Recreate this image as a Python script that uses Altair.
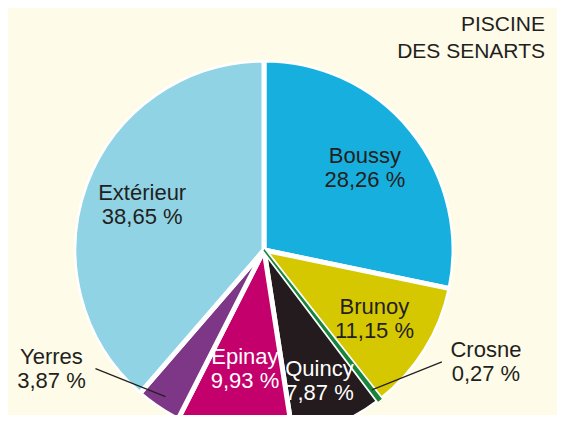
import math
import altair as alt
import pandas as pd

# ---- data ----
categories = ["Boussy", "Brunoy", "Crosne", "Quincy", "Epinay", "Yerres", "Extérieur"]
values = [28.26, 11.15, 0.27, 7.87, 9.93, 3.87, 38.65]
pct_labels = [f"{v:.2f}".replace(".", ",") + " %" for v in values]
title_lines = ["PISCINE", "DES SENARTS"]

# ---- styles / layout ----
colors = ["#17afde", "#d6c800", "#17853b", "#231b1d", "#c4006c", "#7e3687", "#90d3e5"]
BG = "#fefbe8"
TXT = "#231f20"
W, H = 549, 407
CX, CY, R = 256, 242, 190
FONT = "Liberation Sans"
FS, LH = 22, 24
label_radius = {"Quincy": 142, "Epinay": 121}
default_label_radius = 130
LEAD_DX, LEAD_DY = 70, 28

df = pd.DataFrame({"cat": categories, "value": values, "pct": pct_labels,
                   "order": list(range(len(categories)))})

theta_scale = alt.Scale(domain=[0, 100], range=[0, 2 * math.pi])
color_scale = alt.Scale(domain=categories, range=colors)

base = (
    alt.Chart(df)
    .transform_window(cum="sum(value)", sort=[{"field": "order"}], frame=[None, 0])
    .transform_calculate(
        start="datum.cum - datum.value",
        mid="(datum.cum - datum.value / 2) * 2 * PI / 100",
        label="datum.cat + '\\n' + datum.pct",
    )
)

arcs = base.mark_arc(outerRadius=R, stroke="white", strokeWidth=5, strokeJoin="round").encode(
    theta=alt.Theta("start:Q", scale=theta_scale),
    theta2="cum:Q",
    color=alt.Color("cat:N", scale=color_scale, legend=None),
    x=alt.value(CX),
    y=alt.value(CY),
).transform_filter("datum.cat != 'Crosne'")

crosne = base.mark_arc(outerRadius=R, strokeWidth=1.5).encode(
    theta=alt.Theta("start:Q", scale=theta_scale),
    theta2="cum:Q",
    color=alt.Color("cat:N", scale=color_scale, legend=None),
    stroke=alt.Color("cat:N", scale=color_scale, legend=None),
    x=alt.value(CX),
    y=alt.value(CY),
).transform_filter("datum.cat == 'Crosne'")

ring = alt.Chart(pd.DataFrame({"k": [0]})).mark_arc(
    innerRadius=R, outerRadius=R + 10, theta=0, theta2=2 * math.pi, color=BG
).encode(x=alt.value(CX), y=alt.value(CY))

inside = ["Boussy", "Brunoy", "Quincy", "Epinay", "Extérieur"]
outside = ["Crosne", "Yerres"]

rl_expr = str(default_label_radius)
for k, v in label_radius.items():
    rl_expr = f"(datum.cat == '{k}' ? {v} : {rl_expr})"

inner_labels = base.transform_filter(
    alt.FieldOneOfPredicate(field="cat", oneOf=inside)
).transform_calculate(
    rl=rl_expr
).transform_calculate(
    lx=f"{CX} + datum.rl * sin(datum.mid)",
    ly=f"{CY} - datum.rl * cos(datum.mid) - {LH / 2}",
).mark_text(font=FONT, fontSize=FS, lineBreak="\n", lineHeight=LH, align="center", baseline="middle").encode(
    x=alt.X("lx:Q", scale=None, axis=None),
    y=alt.Y("ly:Q", scale=None, axis=None),
    text="label:N",
    color=alt.condition(
        alt.FieldOneOfPredicate(field="cat", oneOf=["Quincy", "Epinay"]),
        alt.value("white"), alt.value(TXT)
    ),
)

RA = 0.93 * R
outer_base = base.transform_filter(
    alt.FieldOneOfPredicate(field="cat", oneOf=outside)
).transform_calculate(
    side="sin(datum.mid) >= 0 ? 1 : -1",
    ax=f"{CX} + {RA} * sin(datum.mid)",
    ay=f"{CY} - {RA} * cos(datum.mid)",
).transform_calculate(
    bx=f"datum.ax + datum.side * {LEAD_DX}",
    by=f"datum.ay - {LEAD_DY}",
).transform_calculate(
    tx="datum.bx + datum.side * 44",
    ty=f"datum.by - {LH / 2}",
)

leaders = outer_base.mark_rule(color=TXT, strokeWidth=1.3).encode(
    x=alt.X("ax:Q", scale=None, axis=None),
    x2="bx:Q",
    y=alt.Y("ay:Q", scale=None, axis=None),
    y2="by:Q",
)

outer_labels = outer_base.mark_text(font=FONT, fontSize=FS, lineBreak="\n", lineHeight=LH,
                                    align="center", baseline="middle", color=TXT).encode(
    x=alt.X("tx:Q", scale=None, axis=None),
    y=alt.Y("ty:Q", scale=None, axis=None),
    text="label:N",
)

title = alt.Chart(pd.DataFrame({"t": ["\n".join(title_lines)]})).mark_text(
    font=FONT, fontSize=21, lineBreak="\n", lineHeight=26.5, align="right", baseline="top", color=TXT
).encode(x=alt.value(537), y=alt.value(6), text="t:N")

chart = alt.layer(arcs, crosne, ring, inner_labels, leaders, outer_labels, title).properties(
    width=W, height=H, background=BG, padding=0,
    autosize=alt.AutoSizeParams(type="none"),
).configure_view(stroke=None, fill=BG)

chart.save("out.html", embed_options={"renderer": "svg", "actions": False})
